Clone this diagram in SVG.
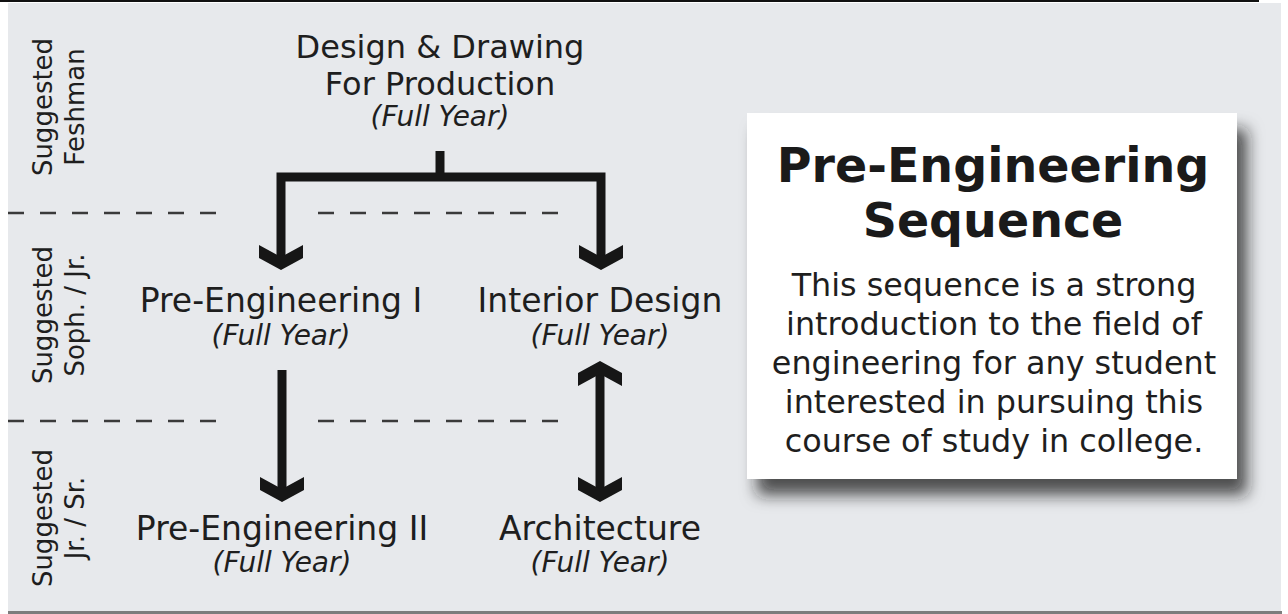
<svg xmlns="http://www.w3.org/2000/svg" width="1288" height="614" viewBox="0 0 1288 614">
  <defs>
    <style>
      .t { font-family: "DejaVu Sans", Verdana, sans-serif; fill: #1e1e1e; text-anchor: middle; }
      .top { font-size: 32px; }
      .course { font-size: 33px; }
      .fy { font-size: 28px; font-style: italic; }
      .side { font-size: 26px; }
      .title { font-size: 47.5px; font-weight: bold; fill: #1a1a1a; }
      .body { font-size: 31.8px; }
      .dash { stroke: #3a3a3a; stroke-width: 2.5; stroke-dasharray: 16 16; fill: none; }
      .conn { stroke: #161616; stroke-width: 9; fill: none; stroke-linejoin: miter; }
      .head { fill: #161616; }
    </style>
    <filter id="shadow" x="-10%" y="-10%" width="130%" height="140%">
      <feDropShadow dx="10" dy="16" stdDeviation="8" flood-color="#1a1a1a" flood-opacity="0.75"/>
    </filter>
  </defs>

  <rect x="0" y="0" width="1288" height="614" fill="#ffffff"/>
  <rect x="8" y="3" width="1273" height="609" fill="#e7e9ec"/>
  <rect x="0" y="0" width="1259" height="2" fill="#111111"/>
  <rect x="8" y="611" width="1274" height="3" fill="#7d7d7d"/>

  <g id="dividers">
    <path class="dash" d="M8,213 H218 M318,213 H560"/>
    <path class="dash" d="M8,421 H218 M318,421 H560"/>
  </g>

  <g id="year-labels">
    <g id="label-freshman">
      <text class="t side" transform="translate(52,107) rotate(-90)">Suggested</text>
      <text class="t side" transform="translate(84,107) rotate(-90)">Feshman</text>
    </g>
    <g id="label-soph">
      <text class="t side" transform="translate(52,315) rotate(-90)">Suggested</text>
      <text class="t side" transform="translate(84,315) rotate(-90)">Soph. / Jr.</text>
    </g>
    <g id="label-junior">
      <text class="t side" transform="translate(52,518) rotate(-90)">Suggested</text>
      <text class="t side" transform="translate(84,518) rotate(-90)">Jr. / Sr.</text>
    </g>
  </g>

  <g id="node-design-drawing">
    <text class="t top" x="440" y="58">Design &amp; Drawing</text>
    <text class="t top" x="440" y="95">For Production</text>
    <text class="t fy" x="440" y="126">(Full Year)</text>
  </g>

  <g id="node-pre-eng-1">
    <text class="t course" x="281" y="312">Pre-Engineering I</text>
    <text class="t fy" x="281" y="345">(Full Year)</text>
  </g>

  <g id="node-interior-design">
    <text class="t course" x="600" y="312">Interior Design</text>
    <text class="t fy" x="600" y="345">(Full Year)</text>
  </g>

  <g id="node-pre-eng-2">
    <text class="t course" x="282" y="540">Pre-Engineering II</text>
    <text class="t fy" x="282" y="572">(Full Year)</text>
  </g>

  <g id="node-architecture">
    <text class="t course" x="600" y="540">Architecture</text>
    <text class="t fy" x="600" y="572">(Full Year)</text>
  </g>

  <g id="connectors">
    <path class="conn" d="M440,151 V177"/>
    <path class="conn" d="M281,258 V177 H601 V258"/>
    <polygon class="head" points="259,245 281,257 303,245 303,258 281,270 259,258"/>
    <polygon class="head" points="579,245 601,257 623,245 623,258 601,270 579,258"/>
    <path class="conn" d="M282,370 V490"/>
    <polygon class="head" points="260,477 282,489 304,477 304,490 282,502 260,490"/>
    <path class="conn" d="M600,373 V490"/>
    <polygon class="head" points="578,386 600,374 622,386 622,373 600,361 578,373"/>
    <polygon class="head" points="578,477 600,489 622,477 622,490 600,502 578,490"/>
  </g>

  <g id="info-box">
    <rect x="747" y="113" width="490" height="366" fill="#ffffff" filter="url(#shadow)"/>
    <text class="t title" x="993" y="182">Pre-Engineering</text>
    <text class="t title" x="993" y="237">Sequence</text>
    <text class="t body" x="994" y="296">This sequence is a strong</text>
    <text class="t body" x="994" y="335">introduction to the field of</text>
    <text class="t body" x="994" y="374">engineering for any student</text>
    <text class="t body" x="994" y="413">interested in pursuing this</text>
    <text class="t body" x="994" y="452">course of study in college.</text>
  </g>
</svg>
